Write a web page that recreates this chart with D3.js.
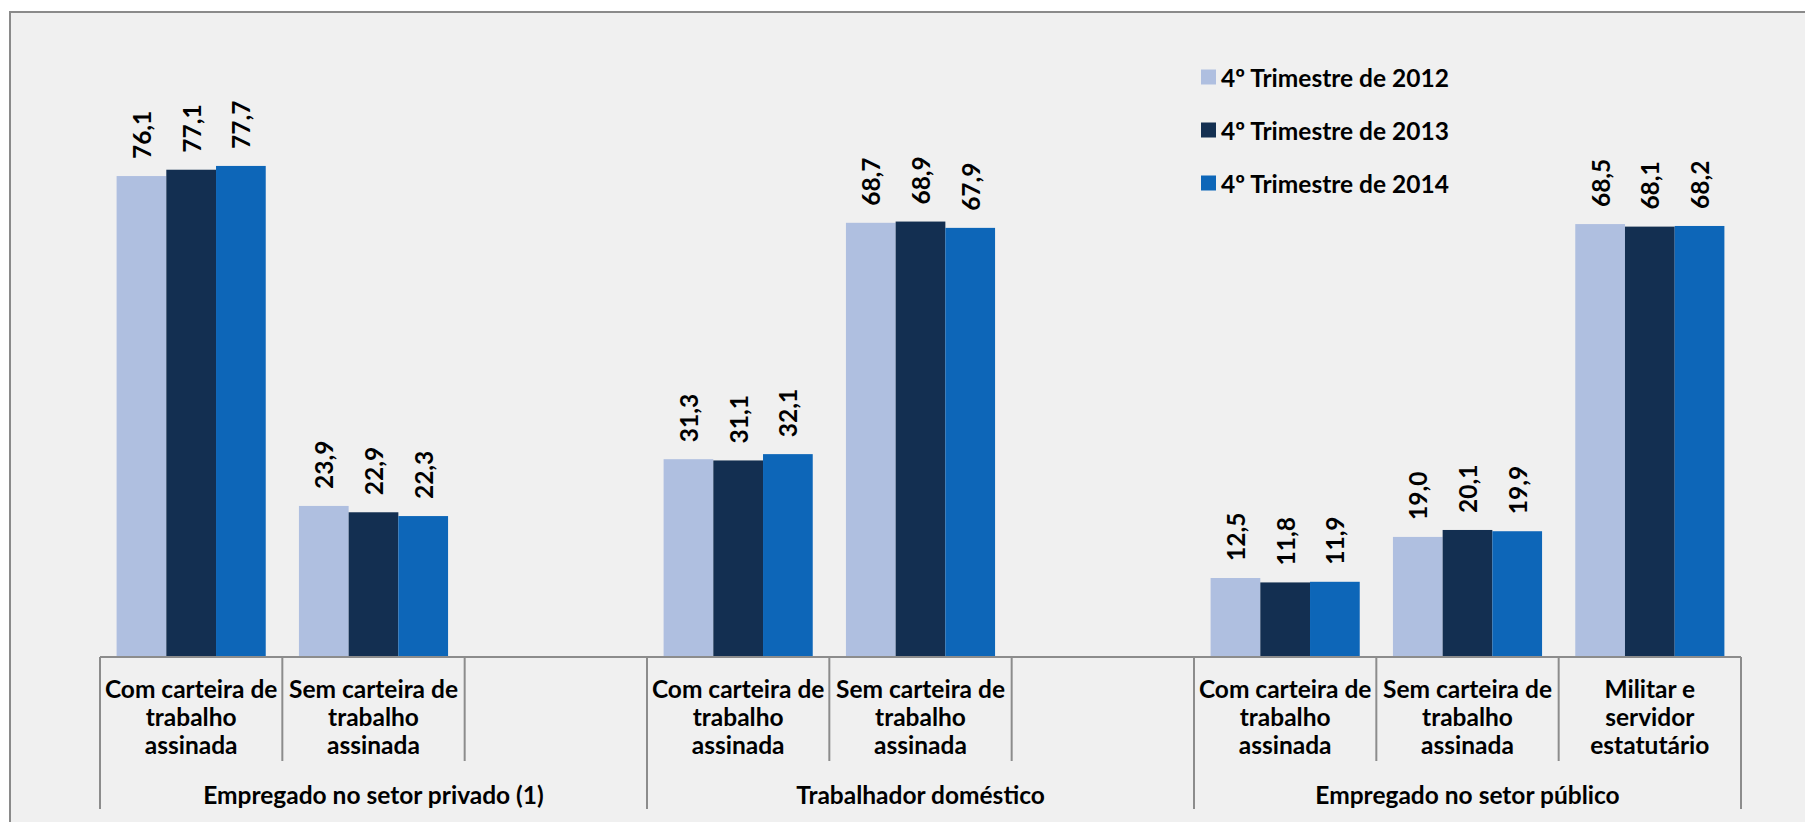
<!DOCTYPE html>
<html><head><meta charset="utf-8">
<script src="https://cdn.jsdelivr.net/npm/d3@7"></script>
<style>
html,body{margin:0;padding:0;background:#ffffff;}
svg{display:block;font-family:Lato,"Open Sans",sans-serif;font-weight:bold;}
</style>
</head><body>
<svg id="chart" width="1805" height="822"></svg>
<script>
// ---- data ----
const groups = ["Empregado no setor privado (1)", "Trabalhador doméstico", "Empregado no setor público"];
const slotGroup = [0, 0, 0, 1, 1, 1, 2, 2, 2];
const slotLabels = [
  ["Com carteira de", "trabalho", "assinada"],
  ["Sem carteira de", "trabalho", "assinada"],
  [],
  ["Com carteira de", "trabalho", "assinada"],
  ["Sem carteira de", "trabalho", "assinada"],
  [],
  ["Com carteira de", "trabalho", "assinada"],
  ["Sem carteira de", "trabalho", "assinada"],
  ["Militar e", "servidor", "estatutário"]
];
const seriesNames = ["4º Trimestre de 2012", "4º Trimestre de 2013", "4º Trimestre de 2014"];
const values2012 = [76.1, 23.9, null, 31.3, 68.7, null, 12.5, 19.0, 68.5];
const values2013 = [77.1, 22.9, null, 31.1, 68.9, null, 11.8, 20.1, 68.1];
const values2014 = [77.7, 22.3, null, 32.1, 67.9, null, 11.9, 19.9, 68.2];
const seriesColors = ["#AFBFE0", "#132F51", "#0D66B8"];

const seriesValues = [values2012, values2013, values2014];
const fmt = v => d3.format(".1f")(v).replace(".", ",");
const FS = 24.5;

const svg = d3.select("#chart");
// chart area frame
svg.append("rect").attr("x", 10).attr("y", 12).attr("width", 1820).attr("height", 840)
  .attr("fill", "#F0F0F0").attr("stroke", "#8A8A8A").attr("stroke-width", 2);

const axisY = 657;
const x = d3.scaleBand().domain(d3.range(slotLabels.length)).range([100, 1741]).padding(0);
const xs = d3.scaleBand().domain(d3.range(seriesNames.length)).range([0, x.bandwidth()])
  .paddingInner(0).paddingOuter(0.334);
const y = d3.scaleLinear().domain([0, 100]).range([axisY, 25]);

// bars
const barData = [];
seriesValues.forEach((vals, si) => vals.forEach((v, ci) => {
  if (v != null) barData.push({si, ci, v});
}));
const gBars = svg.append("g");
gBars.selectAll("rect").data(barData).join("rect")
  .attr("x", d => x(d.ci) + xs(d.si))
  .attr("y", d => y(d.v))
  .attr("width", xs.bandwidth())
  .attr("height", d => y(0) - y(d.v))
  .attr("fill", d => seriesColors[d.si]);

// value labels
gBars.selectAll("text").data(barData).join("text")
  .attr("transform", d => `translate(${x(d.ci) + xs(d.si) + xs.bandwidth() / 2},${y(d.v) - 17}) rotate(-90)`)
  .attr("text-anchor", "start")
  .attr("dominant-baseline", "central")
  .attr("font-size", FS)
  .attr("fill", "#000")
  .text(d => fmt(d.v));

// category axis
const axisColor = "#8C8C8C";
const gAxis = svg.append("g");
gAxis.append("line").attr("x1", x.range()[0]).attr("x2", x.range()[1])
  .attr("y1", axisY).attr("y2", axisY).attr("stroke", axisColor).attr("stroke-width", 2);
const boundaries = d3.range(slotLabels.length + 1);
gAxis.selectAll("line.tick").data(boundaries).join("line").attr("class", "tick")
  .attr("x1", i => 100 + i * x.step()).attr("x2", i => 100 + i * x.step())
  .attr("y1", axisY)
  .attr("y2", i => (i === 0 || i === slotLabels.length || slotGroup[i] !== slotGroup[i - 1]) ? 809 : 761)
  .attr("stroke", axisColor).attr("stroke-width", 2);

const catText = gAxis.selectAll("text.cat").data(slotLabels).join("text").attr("class", "cat")
  .attr("text-anchor", "middle").attr("font-size", FS).attr("fill", "#000");
catText.each(function(lines, i) {
  d3.select(this).selectAll("tspan").data(lines).join("tspan")
    .attr("x", x(i) + x.bandwidth() / 2)
    .attr("y", (d, j) => 688 + j * 28)
    .attr("dominant-baseline", "central")
    .text(d => d);
});

// group labels
gAxis.selectAll("text.grp").data(groups).join("text").attr("class", "grp")
  .attr("x", (g, gi) => {
    const idx = slotGroup.map((s, i) => s === gi ? i : -1).filter(i => i >= 0);
    return (x(idx[0]) + x(idx[idx.length - 1]) + x.bandwidth()) / 2;
  })
  .attr("y", 794).attr("dominant-baseline", "central").attr("text-anchor", "middle")
  .attr("font-size", FS).attr("fill", "#000").text(d => d);

// legend
const legendY = [77, 130, 183];
const gLeg = svg.append("g");
const li = gLeg.selectAll("g").data(seriesNames).join("g")
  .attr("transform", (d, i) => `translate(1201,${legendY[i]})`);
li.append("rect").attr("x", 0).attr("y", -7.5).attr("width", 15).attr("height", 15)
  .attr("fill", (d, i) => seriesColors[i]);
li.append("text").attr("x", 20).attr("y", 0).attr("dominant-baseline", "central")
  .attr("font-size", FS).attr("fill", "#000").text(d => d);
</script>
</body></html>
